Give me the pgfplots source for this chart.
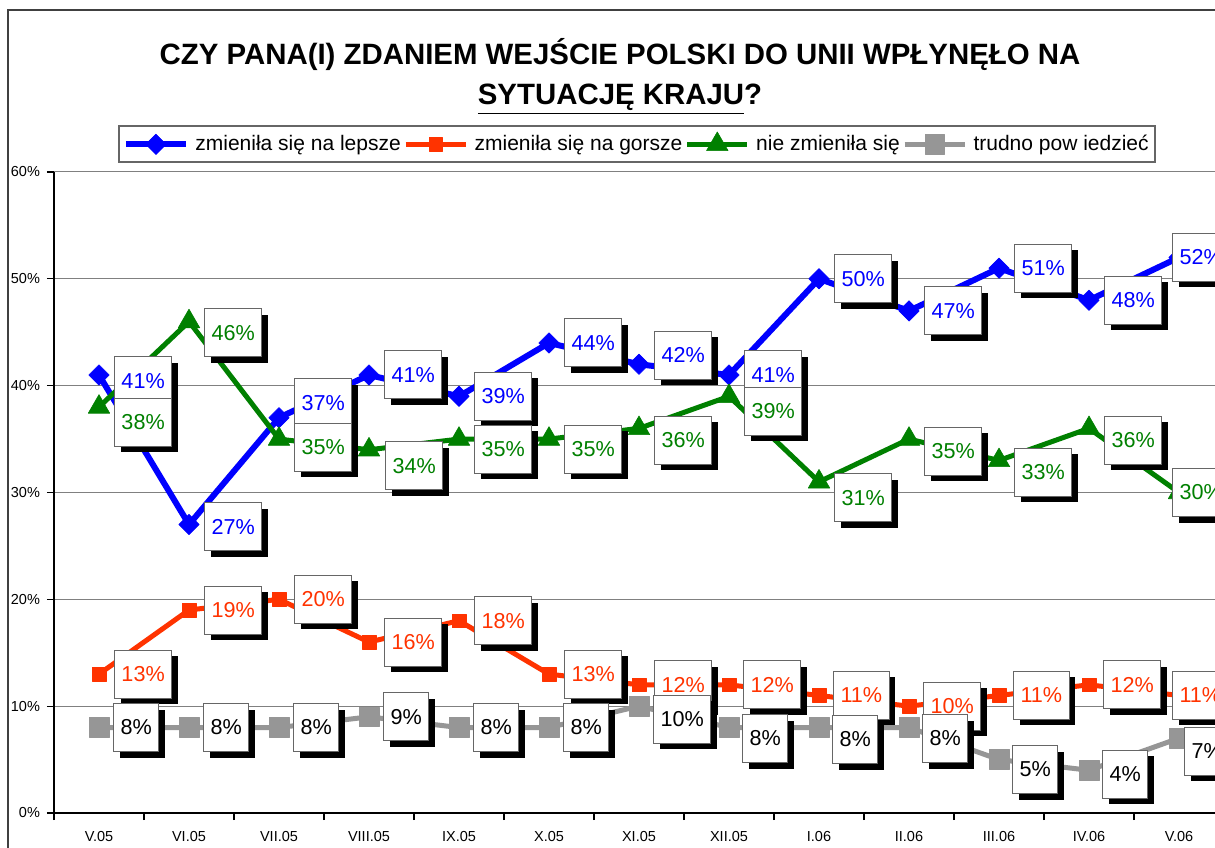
\documentclass[border=0pt]{standalone}
\usepackage{fontspec}
\setmainfont{Liberation Sans}
\usepackage{pgfplots}
\pgfplotsset{compat=1.18}
\usepackage{pgfplotstable}
\usetikzlibrary{shadows}
\definecolor{cblue}{RGB}{0,0,255}
\definecolor{cred}{RGB}{255,51,0}
\definecolor{cgreen}{RGB}{0,128,0}
\definecolor{cgray}{RGB}{150,150,150}

\pgfplotstableread{
x y dx dy
0 41 7.5 -3
1 27 7.5 -1
2 37 7.5 7.5
3 41 7.5 0
4 39 7.5 0
5 44 7.5 0
6 42 7.5 4.5
7 41 7.5 0
8 50 7.5 0
9 47 7.5 0
10 51 7.5 0
11 48 7.5 0
12 52 -3.5 0
}\lepsze
\pgfplotstableread{
x y dx dy
0 13 7.5 0
1 19 7.5 0
2 20 7.5 0
3 16 7.5 0
4 18 7.5 0
5 13 7.5 0
6 12 7.5 0
7 12 7 0
8 11 7 0
9 10 7 0
10 11 7 0
11 12 7 0
12 11 -3.5 0
}\gorsze
\pgfplotstableread{
x y dx dy
0 38 7.5 -7.5
1 46 7.5 -5.5
2 35 7.5 -4
3 34 8 -8
4 35 7.5 -5
5 35 7.5 -5
6 36 7.5 -6
7 39 7.5 -7.5
8 31 7.5 -8
9 35 7.5 -6
10 33 7.5 -6
11 36 7.5 -6
12 30 -3.5 0
}\niezm
\pgfplotstableread{
x y dx dy
0 8 7 0
1 8 7 0
2 8 7 0
3 9 7 0
4 8 7 0
5 8 7 0
6 10 7 -6.5
7 8 6.5 -5.5
8 8 6.5 -6
9 8 6.5 -5.5
10 5 6.5 -5
11 4 6.5 -2
12 7 2.5 -6.5
}\trudno

\pgfplotsset{
  lbl/.style={draw=none, mark=none, forget plot, point meta=y,
    nodes near coords={\pgfmathprintnumber[fixed,precision=0,assume math mode=true]{\pgfplotspointmeta}\%},
    visualization depends on={\thisrow{dy}\as\dy},
    visualization depends on={\thisrow{dx}\as\dx},
    every node near coord/.append style={anchor=west, xshift=\dx pt, yshift=\dy pt,
      draw=black!60, line width=0.5pt, fill=white, minimum height=24pt,
      inner xsep=3.5pt, inner ysep=0pt,
      font=\fontsize{10.8pt}{12pt}\selectfont, text=#1,
      drop shadow={shadow xshift=3pt, shadow yshift=-3pt, opacity=1, fill=black}}},
}

\begin{document}
\begin{tikzpicture}
\useasboundingbox (0,0) rectangle (607.5pt,423.5pt);
\clip (0,0) rectangle (607.5pt,423.5pt);
\fill[white] (0,0) rectangle (607.5pt,423.5pt);
\draw[line width=0.85pt, black!75] (4pt,-10pt) -- (4pt,418.5pt) -- (620pt,418.5pt);
\begin{axis}[
  at={(27pt,17pt)}, anchor=south west,
  scale only axis, width=585pt, height=320.5pt,
  xmin=-0.5, xmax=12.5, ymin=0, ymax=60,
  clip=false,
  axis lines*=left,
  axis line style={black, line width=0.8pt},
  ymajorgrids, grid style={black!50, line width=0.5pt},
  ytick={0,10,...,60},
  yticklabel={\pgfmathprintnumber{\tick}\%},
  xtick={0,...,12},
  xticklabels={V.05,VI.05,VII.05,VIII.05,IX.05,X.05,XI.05,XII.05,I.06,II.06,III.06,IV.06,V.06},
  minor xtick={-0.5,0.5,...,12.5},
  major x tick style={draw=none},
  tick align=outside,
  major tick length=3.5pt, minor tick length=3.5pt,
  tick style={black, line width=0.6pt},
  ticklabel style={font=\fontsize{7.25pt}{8pt}\selectfont, /pgf/number format/assume math mode=true},
  xticklabel style={yshift=-2pt},
  legend columns=4,
  legend cell align=left,
  legend style={at={(0.4983,1.0437)}, anchor=center, draw=black!60, line width=0.6pt,
    font=\fontsize{10.5pt}{12pt}\selectfont, inner xsep=2pt, inner ysep=3pt,
    nodes={inner sep=1.2pt},
    /tikz/every odd column/.append style={column sep=2pt}},
  legend image code/.code={\draw[mark repeat=2,mark phase=2,#1] plot coordinates {(0pt,0pt) (15pt,0pt) (30pt,0pt)};},
]
\addplot[cblue, line width=3pt, line join=round, mark=square*, mark size=3.6pt, mark options={rotate=45, solid, line width=0.3pt}] table[x=x,y=y]{\lepsze};
\addlegendentry{zmieniła się na lepsze}
\addplot[cred, line width=2.5pt, line join=round, mark=square*, mark size=3.4pt, mark options={solid, line width=0.3pt}] table[x=x,y=y]{\gorsze};
\addlegendentry{zmieniła się na gorsze}
\addplot[cgreen, line width=2.5pt, line join=round, mark=triangle*, mark size=6.2pt, mark options={solid, line width=0.3pt}] table[x=x,y=y]{\niezm};
\addlegendentry{nie zmieniła się}
\addplot[cgray, line width=2.5pt, line join=round, mark=square*, mark size=4.9pt, mark options={solid, line width=0.3pt}] table[x=x,y=y]{\trudno};
\addlegendentry{trudno pow iedzieć}
\addplot[lbl=cblue] table[x=x,y=y]{\lepsze};
\addplot[lbl=cred] table[x=x,y=y]{\gorsze};
\addplot[lbl=cgreen] table[x=x,y=y]{\niezm};
\addplot[lbl=black] table[x=x,y=y]{\trudno};
\end{axis}
\node[anchor=base, font=\fontsize{14.7pt}{17pt}\selectfont\bfseries] at (310pt,391pt) {CZY PANA(I) ZDANIEM WEJŚCIE POLSKI DO UNII WPŁYNĘŁO NA};
\node[anchor=base, font=\fontsize{14.7pt}{17pt}\selectfont\bfseries] at (310pt,371pt) {\underline{SYTUACJĘ KRAJU}?};
\end{tikzpicture}
\end{document}
